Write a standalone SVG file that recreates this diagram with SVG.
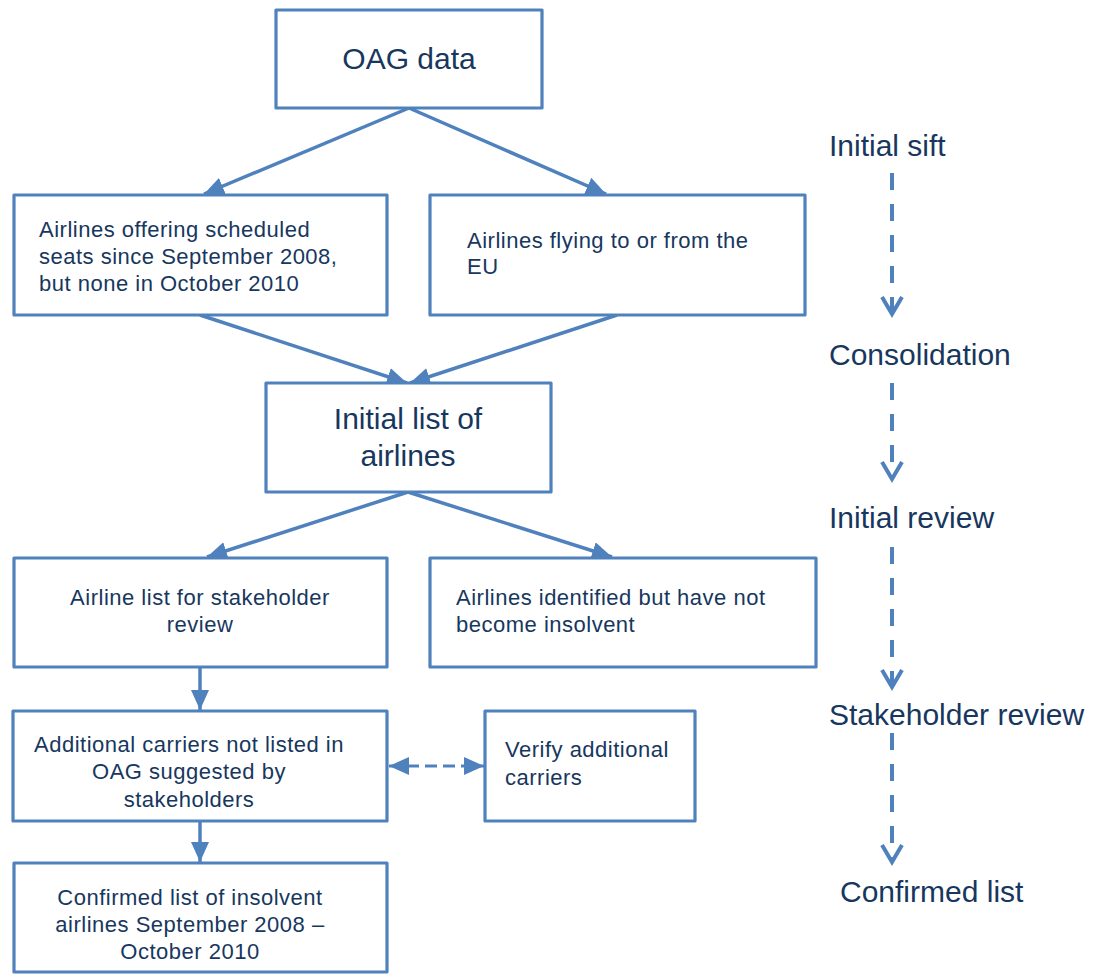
<svg xmlns="http://www.w3.org/2000/svg" width="1106" height="974" viewBox="0 0 1106 974">
<style>
.box{fill:#fff;stroke:#4F81BD;stroke-width:3.2;stroke-linejoin:round}
.lg{font-family:"Liberation Sans",Arial,sans-serif;font-size:30px;fill:#17375E}
.sm{font-family:"Liberation Sans",Arial,sans-serif;font-size:22px;letter-spacing:0.5px;fill:#17375E}
.c{text-anchor:middle}
.ln{fill:none;stroke:#4F81BD;stroke-width:3.5}
.dl{fill:none;stroke:#4F81BD;stroke-width:3;stroke-dasharray:12 6}
.vl{fill:none;stroke:#4F81BD;stroke-width:4;stroke-dasharray:17 14}
.chev{fill:none;stroke:#4F81BD;stroke-width:4;stroke-linejoin:miter}
</style>
<defs>
<marker id="ah" markerUnits="userSpaceOnUse" viewBox="0 0 20 18" refX="20" refY="9" markerWidth="20" markerHeight="18" orient="auto-start-reverse">
<path d="M0,0 L20,9 L0,18 z" fill="#4F81BD"/>
</marker>
</defs>
<rect width="1106" height="974" fill="#fff"/>
<g id="connectors">
<line class="ln" x1="409" y1="108" x2="204" y2="194" marker-end="url(#ah)"/>
<line class="ln" x1="409" y1="108" x2="606" y2="194" marker-end="url(#ah)"/>
<line class="ln" x1="200" y1="315" x2="407" y2="383" marker-end="url(#ah)"/>
<line class="ln" x1="617" y1="315" x2="410" y2="383" marker-end="url(#ah)"/>
<line class="ln" x1="408" y1="492" x2="207" y2="557" marker-end="url(#ah)"/>
<line class="ln" x1="408" y1="492" x2="612" y2="557" marker-end="url(#ah)"/>
<line class="ln" x1="200" y1="667" x2="200" y2="710" marker-end="url(#ah)"/>
<line class="ln" x1="200" y1="821" x2="200" y2="862" marker-end="url(#ah)"/>
<line class="dl" x1="389" y1="766" x2="484" y2="766" marker-start="url(#ah)" marker-end="url(#ah)"/>
<line class="vl" x1="892" y1="173" x2="892" y2="312"/>
<polyline class="chev" points="882,297 892,314 902,297"/>
<line class="vl" x1="892" y1="383" x2="892" y2="477"/>
<polyline class="chev" points="882,462 892,479 902,462"/>
<line class="vl" x1="892" y1="547" x2="892" y2="685"/>
<polyline class="chev" points="882,670 892,687 902,670"/>
<line class="vl" x1="892" y1="733" x2="892" y2="860"/>
<polyline class="chev" points="882,845 892,862 902,845"/>
</g>
<g id="oag">
<rect class="box" x="276" y="10" width="266" height="98"/>
<text class="lg c" x="409" y="69">OAG data</text>
</g>
<g id="offering">
<rect class="box" x="14" y="195" width="373" height="120"/>
<text class="sm" x="39" y="237">Airlines offering scheduled</text>
<text class="sm" x="39" y="264">seats since September 2008,</text>
<text class="sm" x="39" y="291">but none in October 2010</text>
</g>
<g id="flying">
<rect class="box" x="430" y="195" width="375" height="120"/>
<text class="sm" x="467" y="248">Airlines flying to or from the</text>
<text class="sm" x="467" y="274">EU</text>
</g>
<g id="initial">
<rect class="box" x="266" y="383" width="285" height="109"/>
<text class="lg c" x="408" y="429">Initial list of</text>
<text class="lg c" x="408" y="466">airlines</text>
</g>
<g id="stakeholder-list">
<rect class="box" x="14" y="558" width="373" height="109"/>
<text class="sm c" x="200" y="605">Airline list for stakeholder</text>
<text class="sm c" x="200" y="632">review</text>
</g>
<g id="not-insolvent">
<rect class="box" x="430" y="558" width="386" height="109"/>
<text class="sm" x="456" y="605">Airlines identified but have not</text>
<text class="sm" x="456" y="632">become insolvent</text>
</g>
<g id="additional">
<rect class="box" x="13" y="711" width="374" height="110"/>
<text class="sm c" x="189" y="752">Additional carriers not listed in</text>
<text class="sm c" x="189" y="779">OAG suggested by</text>
<text class="sm c" x="189" y="807">stakeholders</text>
</g>
<g id="verify">
<rect class="box" x="485" y="711" width="210" height="110"/>
<text class="sm" x="505" y="757">Verify additional</text>
<text class="sm" x="505" y="785">carriers</text>
</g>
<g id="confirmed">
<rect class="box" x="14" y="863" width="373" height="109"/>
<text class="sm c" x="190" y="905">Confirmed list of insolvent</text>
<text class="sm c" x="190" y="932">airlines September 2008 –</text>
<text class="sm c" x="190" y="959">October 2010</text>
</g>
<g id="stages">
<text class="lg" x="829" y="156">Initial sift</text>
<text class="lg" x="829" y="365">Consolidation</text>
<text class="lg" x="829" y="528">Initial review</text>
<text class="lg" x="829" y="725">Stakeholder review</text>
<text class="lg" x="840" y="902">Confirmed list</text>
</g>
</svg>
